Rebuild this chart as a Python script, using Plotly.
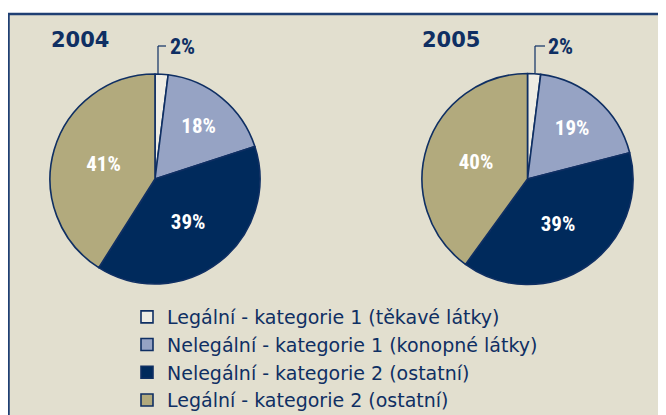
import plotly.graph_objects as go

categories = [
    "Legální - kategorie 1 (těkavé látky)",
    "Nelegální - kategorie 1 (konopné látky)",
    "Nelegální - kategorie 2 (ostatní)",
    "Legální - kategorie 2 (ostatní)",
]
values_2004 = [2, 18, 39, 41]
values_2005 = [2, 19, 39, 40]
years = ["2004", "2005"]

colors = ["#efede4", "#96a3c4", "#002a5c", "#b2aa7d"]
NAVY = "#0f2f63"
BG = "#e2dfcf"
W, H = 666, 415
OFF = 8  # page body margin
COND = "Roboto Condensed, Liberation Sans Narrow, Roboto, sans-serif"

def px(x):
    return (x - OFF) / W

def py(y):
    return (H - (y - OFF)) / H

fig = go.Figure()

pies = [
    (values_2004, [px(50), px(260)], [py(284), py(74)], True),
    (values_2005, [px(422), px(633)], [py(285), py(73)], False),
]
for vals, dx, dy, show in pies:
    fig.add_trace(go.Pie(
        labels=categories,
        values=vals,
        sort=False,
        direction="clockwise",
        rotation=0,
        domain=dict(x=dx, y=dy),
        marker=dict(colors=colors, line=dict(color=NAVY, width=1.6)),
        texttemplate="%{value}%",
        textposition=["none", "inside", "inside", "inside"],
        insidetextorientation="horizontal",
        insidetextfont=dict(family=COND, size=21, color="white", weight="bold"),
        showlegend=show,
        hoverinfo="label+value",
    ))

# background frame
fig.add_shape(type="rect", xref="paper", yref="paper",
              x0=px(8.5), x1=1.2, y0=-0.2, y1=py(14),
              fillcolor=BG, line=dict(color="#1f3f73", width=2.5), layer="below")

# year titles
title_x = [80, 451]
for yr, tx in zip(years, title_x):
    fig.add_annotation(text=yr, x=px(tx), y=py(39.5), xref="paper", yref="paper",
                       showarrow=False, xanchor="center", yanchor="middle",
                       font=dict(family="DejaVu Sans", size=21, color=NAVY, weight="bold"))

# small-slice labels with leader lines
small = [(values_2004[0], 158, 74, 166, 182), (values_2005[0], 535, 73, 545, 560)]
for v, lx, ly_bot, lx2, tx in small:
    fig.add_shape(type="line", xref="paper", yref="paper",
                  x0=px(lx), x1=px(lx), y0=py(ly_bot), y1=py(46),
                  line=dict(color=NAVY, width=1.2))
    fig.add_shape(type="line", xref="paper", yref="paper",
                  x0=px(lx), x1=px(lx2), y0=py(46), y1=py(46),
                  line=dict(color=NAVY, width=1.2))
    fig.add_annotation(text=f"{v}%", x=px(tx), y=py(46.5), xref="paper", yref="paper",
                       showarrow=False, xanchor="center", yanchor="middle",
                       font=dict(family=COND, size=22, color=NAVY, weight="bold"))

fig.update_layout(
    width=W, height=H,
    margin=dict(l=0, r=0, t=0, b=0, autoexpand=False),
    paper_bgcolor="white",
    plot_bgcolor=BG,
    legend=dict(
        x=px(127), y=py(298), xanchor="left", yanchor="top",
        bgcolor="rgba(0,0,0,0)",
        font=dict(family="DejaVu Sans, sans-serif", size=19, color=NAVY),
        traceorder="normal",
        itemclick=False,
    ),
)

fig.write_html("out.html")
